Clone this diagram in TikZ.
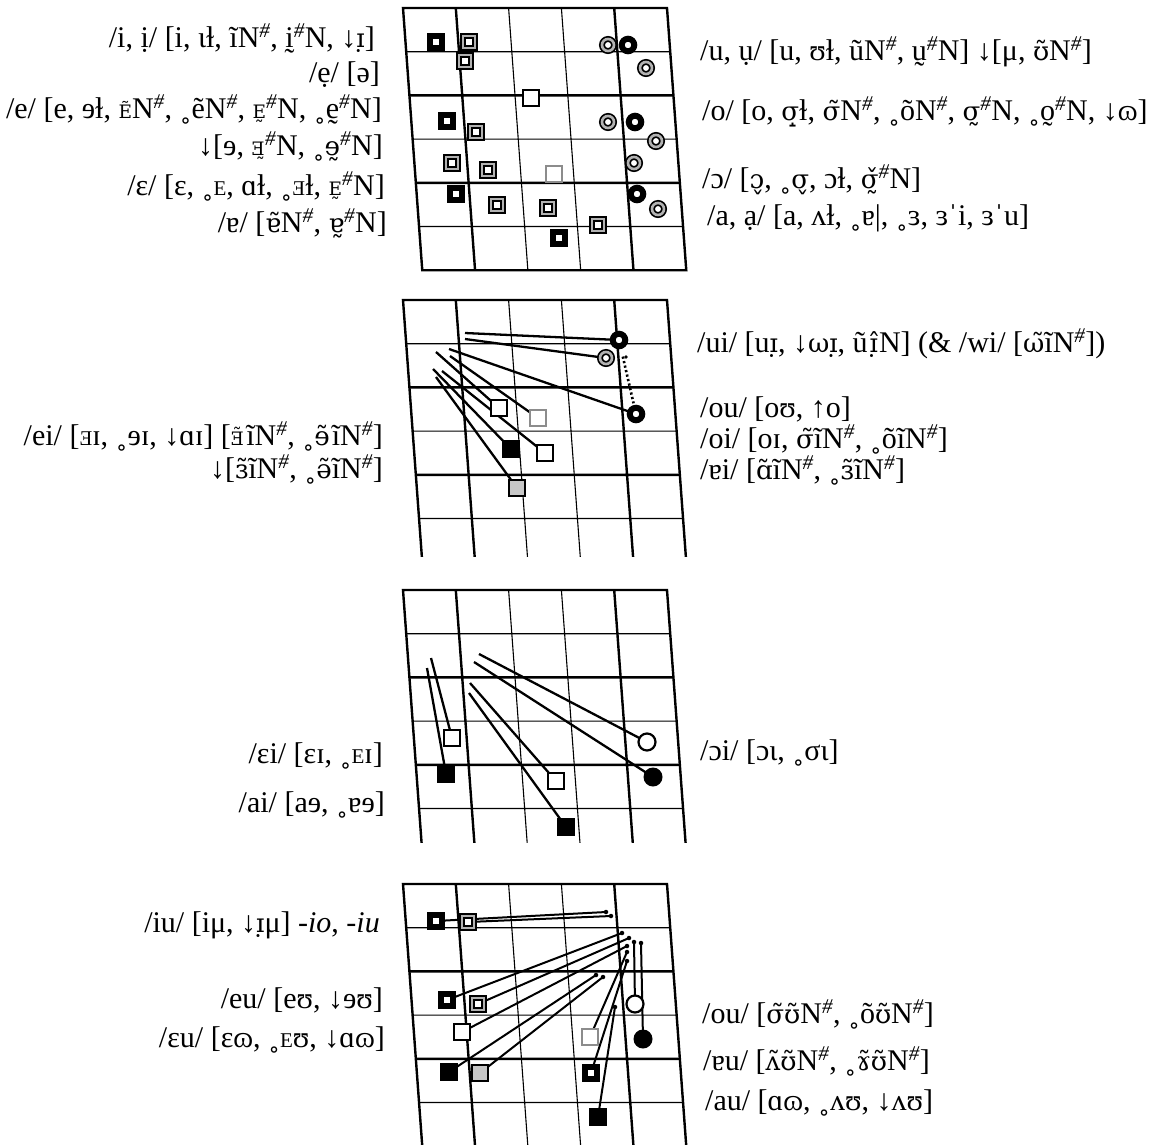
\documentclass[tikz,border=0pt]{standalone}
\usepackage{fontspec}
\setmainfont{Liberation Serif}
\newfontfamily\dv{DejaVu Serif}
\newfontfamily\dvs[Scale=0.87]{DejaVu Serif}
\pgfdeclarelayer{bg}\pgfdeclarelayer{grid}\pgfdeclarelayer{lines}
\pgfsetlayers{bg,grid,lines,main}
\newcommand\db[1]{#1^^^^0323}
\newcommand\tb[1]{#1^^^^0330}
\newcommand\ta[1]{#1^^^^0303}
\newcommand\dk[1]{{\dvs #1}}
\newcommand\rb{{\dv\fontsize{24}{24}\selectfont ˳}}
\newcommand\scE{{\fontsize{21}{21}\selectfont E}}
\newcommand\scRE{{\fontsize{21}{21}\selectfont Ǝ}}
\newcommand\dE[1]{{\dv\fontsize{18.5}{19}\selectfont E#1}}
\newcommand\dRE[1]{{\dv\fontsize{18.5}{19}\selectfont Ǝ#1}}
\newcommand\sh{\textsuperscript{\itshape\#}}
\newcommand\chartgrid[2]{%
\begin{scope}
\clip (380,#1-4) rectangle (720,#2);
\begin{scope}[shift={(403,#1)}, x={(52.8pt,0pt)}, y={(3.21pt,-43.7pt)}]
\draw[gthin] (2,0)--(2,6) (3,0)--(3,6) (0,1)--(5,1) (0,3)--(5,3) (0,5)--(5,5);
\draw[gthick] (1,0)--(1,6) (4,0)--(4,6) (0,2)--(5,2) (0,4)--(5,4);
\draw[gthick] (0,0)--(5,0)--(5,6)--(0,6)--cycle;
\end{scope}
\end{scope}}
\tikzset{
 gthick/.style={line width=2.4pt, line join=miter},
 gthin/.style={line width=1.1pt},
 conn/.style={line width=2.3pt},
 conn4/.style={line width=2pt},
 dotconn/.style={line width=2.6pt, dash pattern=on 2.2pt off 2.4pt},
 blk/.style={rectangle, inner sep=0, minimum size=12pt, draw=black, line width=6pt, fill=white},
 dbl/.style={rectangle, inner sep=0, minimum size=12pt, draw=black, double=gray!60, double distance=2.6pt, line width=1.7pt, fill=white},
 opensq/.style={rectangle, inner sep=0, minimum size=16pt, draw=black, line width=2.2pt, fill=white},
 grayopen/.style={opensq, draw=black!45},
 grayfill/.style={rectangle, inner sep=0, minimum size=16pt, draw=black, line width=1.8pt, fill=black!22},
 solidsq/.style={rectangle, inner sep=0, minimum size=18pt, fill=black},
 dblc/.style={circle, inner sep=0, minimum size=12pt, draw=black, double=gray!60, double distance=2.6pt, line width=1.7pt, fill=white},
 blkc/.style={circle, inner sep=0, minimum size=12.5pt, draw=black, line width=6pt, fill=white},
 openc/.style={circle, inner sep=0, minimum size=17pt, draw=black, line width=2.2pt, fill=white},
 solidc/.style={circle, inner sep=0, minimum size=19pt, fill=black},
 enddot/.style={circle, inner sep=0, minimum size=4.5pt, fill=black},
 lab/.style={inner sep=0, font=\fontsize{30}{36}\selectfont},
 labl/.style={lab, anchor=base east},
 labr/.style={lab, anchor=base west},
}
\begin{document}
\begin{tikzpicture}[x=1pt, y=-1pt]
\useasboundingbox (0,0) rectangle (1154,1144);
\begin{pgfonlayer}{bg}
\fill[white] (0,0) rectangle (1154,1144);
\end{pgfonlayer}
\begin{pgfonlayer}{grid}
\chartgrid{8}{276}
\chartgrid{300}{556}
\chartgrid{590}{842}
\chartgrid{884}{1150}
\end{pgfonlayer}

% ---------- chart 1 ----------
\node[blk] (a1) at (436,42) {};
\node[dbl] (a2) at (469,42) {};
\node[dbl] (a3) at (465,61) {};
\node[opensq] (a4) at (531,98) {};
\node[dblc] (a5) at (608,45) {};
\node[blkc] (a6) at (628,45) {};
\node[dblc] (a7) at (646,68) {};
\node[blk] (a8) at (447,121) {};
\node[dbl] (a9) at (476,132) {};
\node[dblc] (a10) at (608,122) {};
\node[blkc] (a11) at (635,122) {};
\node[dblc] (a12) at (656,141) {};
\node[dblc] (a13) at (634,163) {};
\node[dbl] (a14) at (452,163) {};
\node[dbl] (a15) at (488,170) {};
\node[grayopen] (a16) at (554,174) {};
\node[blk] (a17) at (456,194) {};
\node[blkc] (a18) at (637,194) {};
\node[dblc] (a19) at (658,209) {};
\node[dbl] (a20) at (497,205) {};
\node[dbl] (a21) at (548,208) {};
\node[dbl] (a22) at (598,225) {};
\node[blk] (a23) at (559,238) {};

\node[labl] (t1) at (375,47) {/i, \db{i}/ [i, ɩɫ, ĩN\sh, \tb{i}\sh N, ↓\dk{ɪ^^^^0323}]};
\node[labl] (t2) at (380,82) {/\db{e}/ [ə]};
\node[labl] (t3) at (382,118) {/e/ [e, ɘɫ, \dE{^^^^0303}N\sh, \rb ẽN\sh, \dE{^^^^0330}\sh N, \rb\tb{e}\sh N]};
\node[labl] (t4) at (383,155) {↓[ɘ, \dRE{^^^^0330}\sh N, \rb\dk{ɘ^^^^0330}\sh N]};
\node[labl] (t5) at (385,195) {/ɛ/ [ɛ, \rb\scE, ɑɫ, \rb\scRE ɫ, \dE{^^^^0330}\sh N]};
\node[labl] (t6) at (387,232) {/ɐ/ [\dk{ɐ^^^^0303}N\sh, \dk{ɐ^^^^0330}\sh N]};
\node[labr] (u1) at (700,60) {/u, \db{u}/ [u, ʊɫ, ũN\sh, \tb{u}\sh N] ↓[μ, \dk{ʊ^^^^0303}N\sh]};
\node[labr] (u2) at (702,120) {/o/ [o, \dk{σ^^^^031d}ɫ, \dk{σ^^^^0303}N\sh, \rb õN\sh, \dk{σ^^^^0330}\sh N, \rb\tb{o}\sh N, ↓ɷ]};
\node[labr] (u3) at (702,188) {/ɔ/ [\dk{ɔ^^^^032c}, \rb\dk{σ^^^^032c}, ɔɫ, \dk{σ^^^^030c^^^^0330}\sh N]};
\node[labr] (u4) at (707,225) {/a, \db{a}/ [a, ʌɫ, \rb ɐ|, \rb ɜ, ɜˈi, ɜˈu]};

% ---------- chart 2 ----------
\node[blkc] (b1) at (619,340) {};
\node[dblc] (b2) at (606,358) {};
\node[blkc] (b3) at (636,414) {};
\node[opensq] (b4) at (499,408) {};
\node[grayopen] (b5) at (538,418) {};
\node[solidsq] (b6) at (511,449) {};
\node[opensq] (b7) at (545,453) {};
\node[grayfill] (b8) at (517,488) {};
\coordinate (bf1) at (465,333);
\coordinate (bf2) at (465,339);
\coordinate (bf3) at (449,349);
\coordinate (bf4) at (450,356);
\coordinate (bf5) at (436,352);
\coordinate (bf6) at (442,371);
\coordinate (bf7) at (433,369);
\coordinate (bf8) at (436,377);
\begin{pgfonlayer}{lines}
\draw[conn] (bf1) -- (b1.center);
\draw[conn] (bf2) -- (b2.center);
\draw[conn] (bf3) -- (b3.center);
\draw[conn] (bf4) -- (b5.center);
\draw[conn] (bf5) -- (b4.center);
\draw[conn] (bf6) -- (b7.center);
\draw[conn] (bf7) -- (b6.center);
\draw[conn] (bf8) -- (b8.center);
\draw[dotconn, shorten <=17pt, shorten >=11pt] (b1.center) -- (b3.center);
\end{pgfonlayer}
\fill (626,357) circle (1.8pt);

\node[labl] (v1) at (383,445) {/ei/ [\scRE ɪ, \rb ɘɪ, ↓ɑɪ] [\dRE{^^^^0303}\kern2pt ĩN\sh, \rb\dk{ɘ^^^^0303}\kern2pt ĩN\sh]};
\node[labl] (v2) at (383,478) {↓[\dk{ɜ^^^^0303}ĩN\sh, \rb\dk{ə^^^^0303}ĩN\sh]};
\node[labr] (w1) at (697,352) {/ui/ [u\dk{ɪ^^^^0323}, ↓\dk{ωɪ^^^^0323}, ũ\kern2pt\dk{ɪ^^^^0323^^^^0302}\kern1pt N] (\& /wi/ [\dk{ω^^^^0303}ĩN\sh])};
\node[labr] (w2) at (700,417) {/ou/ [oʊ, ↑o]};
\node[labr] (w3) at (700,448) {/oi/ [oɪ, \dk{σ^^^^0303}ĩN\sh, \rb õĩN\sh]};
\node[labr] (w4) at (700,479) {/ɐi/ [\dk{ɑ^^^^0303}ĩN\sh, \rb\dk{ɜ^^^^0303}ĩN\sh]};

% ---------- chart 3 ----------
\node[opensq] (c1) at (452,738) {};
\node[solidsq] (c2) at (446,774) {};
\node[opensq] (c3) at (556,781) {};
\node[solidsq] (c4) at (566,827) {};
\node[openc] (c5) at (647,742) {};
\node[solidc] (c6) at (653,777) {};
\coordinate (cf1) at (431,658);
\coordinate (cf2) at (427,668);
\coordinate (cf3) at (479,654);
\coordinate (cf4) at (474,662);
\coordinate (cf5) at (470,683);
\coordinate (cf6) at (469,693);
\begin{pgfonlayer}{lines}
\draw[conn] (cf1) -- (c1.center);
\draw[conn] (cf2) -- (c2.center);
\draw[conn] (cf3) -- (c5.center);
\draw[conn] (cf4) -- (c6.center);
\draw[conn] (cf5) -- (c3.center);
\draw[conn] (cf6) -- (c4.center);
\end{pgfonlayer}
\node[labl] (x1) at (383,763) {/ɛi/ [ɛɪ, \rb\scE ɪ]};
\node[labl] (x2) at (385,812) {/ai/ [aɘ, \rb ɐɘ]};
\node[labr] (y1) at (700,760) {/ɔi/ [ɔɩ, \rb σɩ]};

% ---------- chart 4 ----------
\node[blk] (d1) at (436,921) {};
\node[dbl] (d2) at (468,922) {};
\node[blk] (d3) at (447,1000) {};
\node[dbl] (d4) at (478,1004) {};
\node[opensq] (d5) at (462,1032) {};
\node[solidsq] (d6) at (449,1072) {};
\node[grayfill] (d7) at (480,1073) {};
\node[grayopen] (d8) at (590,1037) {};
\node[blk] (d9) at (591,1073) {};
\node[solidsq] (d10) at (598,1117) {};
\node[openc] (d11) at (635,1004) {};
\node[solidc] (d12) at (643,1039) {};
\node[enddot] (e1) at (606,912) {};
\node[enddot] (e2) at (611,916) {};
\node[enddot] (e3) at (622,933) {};
\node[enddot] (e4) at (629,938) {};
\node[enddot] (e5) at (627,946) {};
\node[enddot] (e6) at (596,975) {};
\node[enddot] (e7) at (603,977) {};
\node[enddot] (e8) at (627,952) {};
\node[enddot] (e9) at (627,961) {};
\node[enddot] (e10) at (615,1007) {};
\node[enddot] (e11) at (634,942) {};
\node[enddot] (e12) at (641,943) {};
\begin{pgfonlayer}{lines}
\draw[conn4] (d1.center) -- (e1.center);
\draw[conn4] (d2.center) -- (e2.center);
\draw[conn4] (d3.center) -- (e3.center);
\draw[conn4] (d4.center) -- (e4.center);
\draw[conn4] (d5.center) -- (e5.center);
\draw[conn4] (d6.center) -- (e6.center);
\draw[conn4] (d7.center) -- (e7.center);
\draw[conn4] (d8.center) -- (e8.center);
\draw[conn4] (d9.center) -- (e9.center);
\draw[conn4] (d10.center) -- (e10.center);
\draw[conn4] (d11.center) -- (e11.center);
\draw[conn4] (d12.center) -- (e12.center);
\end{pgfonlayer}
\node[labl] (z1) at (380,932) {/iu/ [iμ, ↓\dk{ɪ^^^^0323}μ] \textit{-io}, \textit{-iu}};
\node[labl] (z2) at (383,1008) {/eu/ [eʊ, ↓ɘʊ]};
\node[labl] (z3) at (385,1047) {/ɛu/ [ɛɷ, \rb\scE ʊ, ↓ɑɷ]};
\node[labr] (q1) at (702,1023) {/ou/ [\dk{σ^^^^0303ʊ^^^^0303}N\sh, \rb õ\dk{ʊ^^^^0303}N\sh]};
\node[labr] (q2) at (703,1070) {/ɐu/ [\dk{ʌ^^^^0303ʊ^^^^0303}N\sh, \rb\dk{ɤ^^^^0303ʊ^^^^0303}N\sh]};
\node[labr] (q3) at (705,1110) {/au/ [ɑɷ, \rb ʌʊ, ↓ʌʊ]};
\end{tikzpicture}
\end{document}
